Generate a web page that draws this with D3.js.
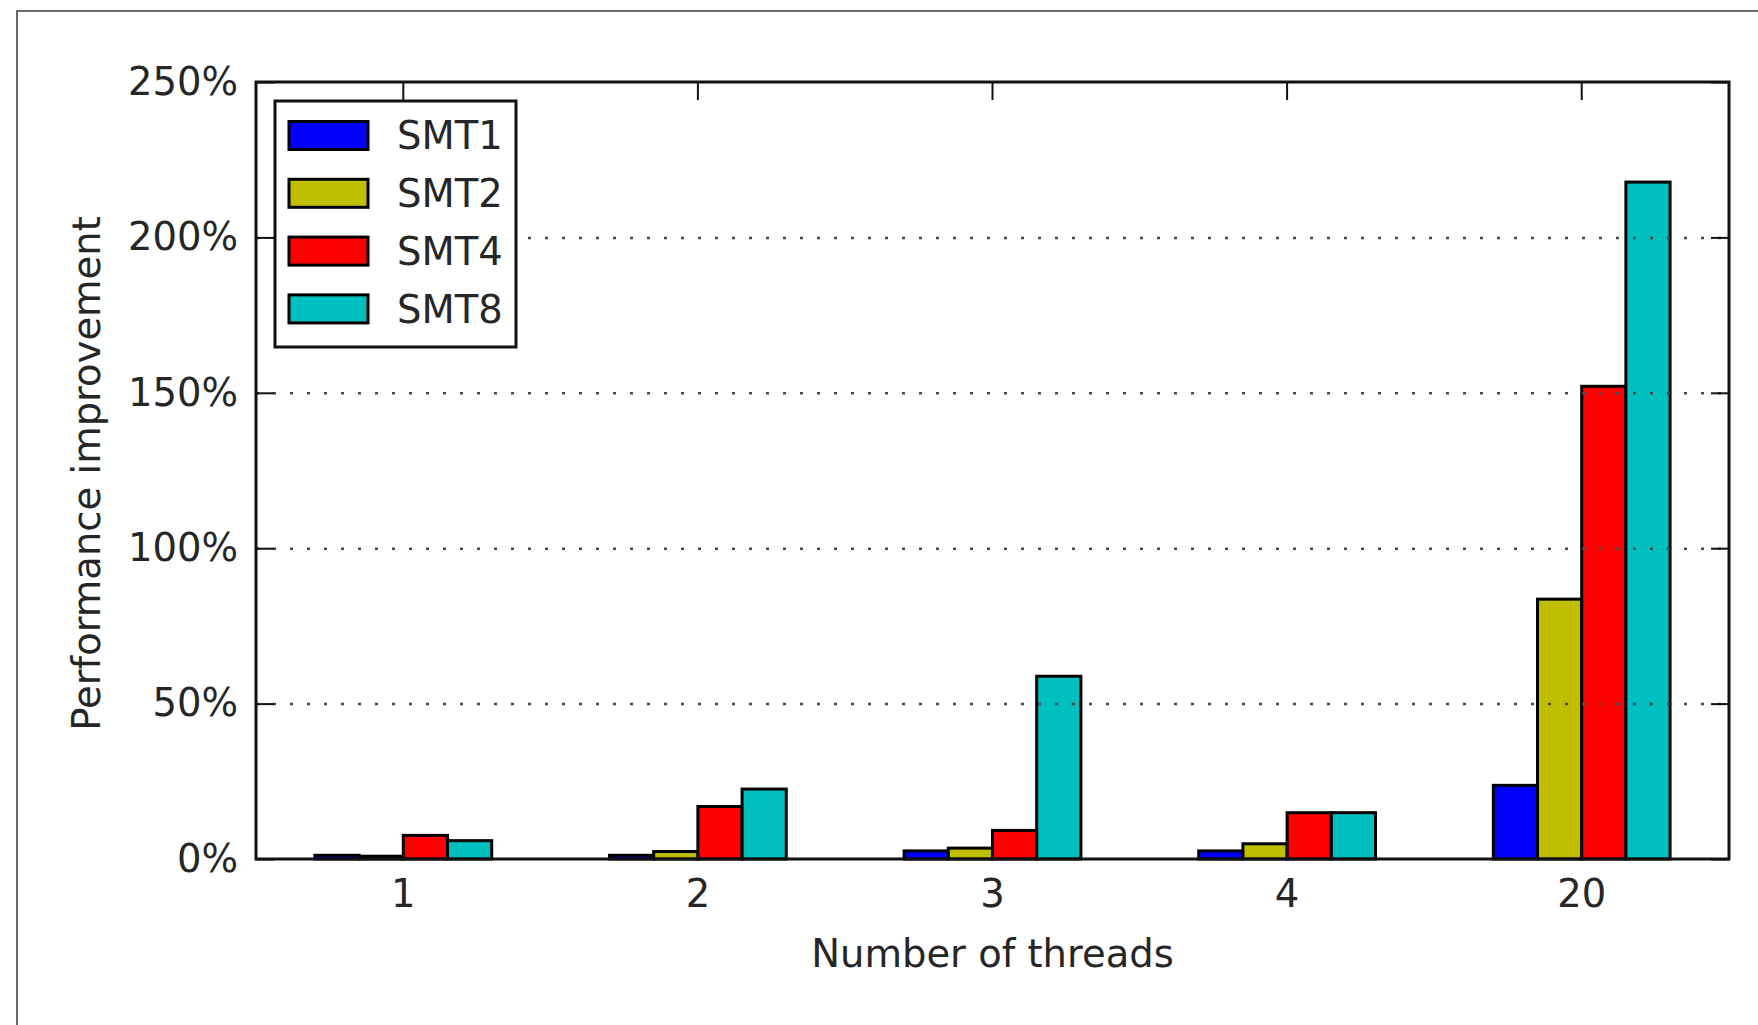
<!DOCTYPE html>
<html>
<head>
<meta charset="utf-8">
<script src="https://cdn.jsdelivr.net/npm/d3@7"></script>
<style>
  body { margin: 0; background: #fff; }
  svg { display: block; font-family: "DejaVu Sans", sans-serif; }
</style>
</head>
<body>
<svg width="1758" height="1025"></svg>
<script>
// Data (percent improvement)
const categories = ['1', '2', '3', '4', '20'];
const seriesNames = ['SMT1', 'SMT2', 'SMT4', 'SMT8'];
const smt1 = [1.2, 1.2, 2.6, 2.6, 23.7];
const smt2 = [0.9, 2.4, 3.5, 4.9, 83.6];
const smt4 = [7.6, 16.9, 9.2, 14.9, 152.1];
const smt8 = [5.9, 22.5, 58.8, 14.9, 217.8];
const yTicks = [0, 50, 100, 150, 200, 250];
const gridTicks = [50, 100, 150, 200];

const seriesValues = [smt1, smt2, smt4, smt8];
const colors = ['#0000ff', '#bfbf00', '#ff0000', '#00bfbf'];

const svg = d3.select('svg');
const width = +svg.attr('width');
const height = +svg.attr('height');

// plot box
const plotLeft = 256, plotRight = 1729, plotTop = 82, plotBottom = 859;
const fontSize = 38.5;
const textColor = '#262626';

svg.append('rect')
    .attr('width', width)
    .attr('height', height)
    .attr('fill', '#fff');

// thin figure frame, only top and left show in the picture
svg.append('path')
    .attr('d', `M17,${height} L17,11 L${width},11`)
    .attr('fill', 'none')
    .attr('stroke', '#6a6a6a')
    .attr('stroke-width', 2);

const x0 = d3.scaleBand()
    .domain(categories)
    .range([plotLeft, plotRight])
    .padding(0);

const x1 = d3.scaleBand()
    .domain(seriesNames)
    .range([0, x0.bandwidth() * 0.6])
    .padding(0);

const y = d3.scaleLinear()
    .domain([0, 250])
    .range([plotBottom, plotTop]);

// bars
const barRows = [];
seriesNames.forEach((s, si) => {
    categories.forEach((c, ci) => {
        barRows.push({ series: s, cat: c, value: seriesValues[si][ci], color: colors[si] });
    });
});

svg.append('g')
    .selectAll('rect')
    .data(barRows)
    .join('rect')
        .attr('x', d => x0(d.cat) + x0.bandwidth() * 0.2 + x1(d.series))
        .attr('y', d => y(d.value))
        .attr('width', x1.bandwidth())
        .attr('height', d => y(0) - y(d.value))
        .attr('fill', d => d.color)
        .attr('stroke', '#000')
        .attr('stroke-width', 3);

// dotted grid, drawn over the bars like in the picture
const grid = svg.append('g')
    .attr('transform', `translate(${plotLeft},0)`)
    .call(d3.axisLeft(y).tickValues(gridTicks).tickSize(-(plotRight - plotLeft)).tickFormat(''));
grid.select('.domain').remove();
grid.selectAll('line')
    .attr('stroke', '#4a4a4a')
    .attr('stroke-width', 2.5)
    .attr('stroke-dasharray', '3,14');

// axes with inward ticks on all four sides
const yAxis = svg.append('g')
    .attr('transform', `translate(${plotLeft},0)`)
    .call(d3.axisLeft(y).tickValues(yTicks).tickSizeInner(-18).tickSizeOuter(0).tickPadding(18)
        .tickFormat(d => d + '%'));

const yAxisRight = svg.append('g')
    .attr('transform', `translate(${plotRight},0)`)
    .call(d3.axisRight(y).tickValues(yTicks).tickSizeInner(-18).tickSizeOuter(0).tickFormat(''));

const xAxis = svg.append('g')
    .attr('transform', `translate(0,${plotBottom})`)
    .call(d3.axisBottom(x0).tickSizeInner(-18).tickSizeOuter(0).tickPadding(21));

const xAxisTop = svg.append('g')
    .attr('transform', `translate(0,${plotTop})`)
    .call(d3.axisTop(x0).tickSizeInner(-18).tickSizeOuter(0).tickFormat(''));

[yAxis, yAxisRight, xAxis, xAxisTop].forEach(a => {
    a.select('.domain').remove();
    a.selectAll('.tick line').attr('stroke', '#111').attr('stroke-width', 2);
    a.selectAll('.tick text')
        .attr('font-size', fontSize)
        .attr('font-family', '"DejaVu Sans", sans-serif')
        .attr('fill', textColor);
});

// plot frame
svg.append('rect')
    .attr('x', plotLeft)
    .attr('y', plotTop)
    .attr('width', plotRight - plotLeft)
    .attr('height', plotBottom - plotTop)
    .attr('fill', 'none')
    .attr('stroke', '#111')
    .attr('stroke-width', 3);

// axis titles
svg.append('text')
    .attr('x', (plotLeft + plotRight) / 2)
    .attr('y', 967)
    .attr('text-anchor', 'middle')
    .attr('font-size', fontSize)
    .attr('fill', textColor)
    .text('Number of threads');

svg.append('text')
    .attr('transform', `translate(100, ${(plotTop + plotBottom) / 2 + 3}) rotate(-90)`)
    .attr('text-anchor', 'middle')
    .attr('font-size', fontSize)
    .attr('fill', textColor)
    .text('Performance improvement');

// legend
const legend = svg.append('g')
    .attr('transform', 'translate(275,101)');

legend.append('rect')
    .attr('width', 241)
    .attr('height', 246)
    .attr('fill', '#fff')
    .attr('stroke', '#111')
    .attr('stroke-width', 3);

const legendRow = d3.scalePoint()
    .domain(seriesNames)
    .range([34.5, 207.9]);

const items = legend.selectAll('g.item')
    .data(seriesNames)
    .join('g')
        .attr('class', 'item')
        .attr('transform', d => `translate(0,${legendRow(d)})`);

items.append('rect')
    .attr('x', 14)
    .attr('y', -14)
    .attr('width', 79)
    .attr('height', 28)
    .attr('fill', (d, i) => colors[i])
    .attr('stroke', '#000')
    .attr('stroke-width', 3);

items.append('text')
    .attr('x', 122)
    .attr('dy', '0.36em')
    .attr('font-size', fontSize)
    .attr('fill', textColor)
    .text(d => d);
</script>
</body>
</html>
